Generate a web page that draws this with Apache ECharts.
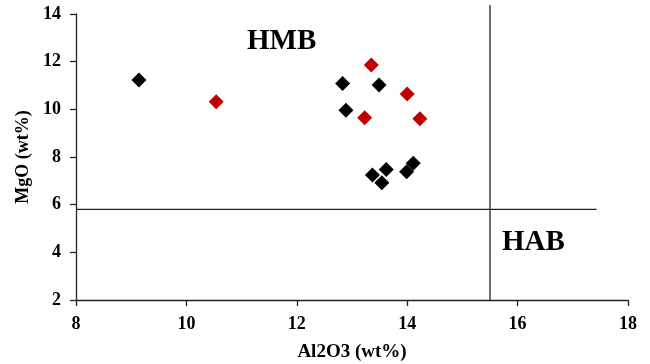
<!DOCTYPE html>
<html>
<head>
<meta charset="utf-8">
<script src="https://cdn.jsdelivr.net/npm/echarts@6/dist/echarts.min.js"></script>
<style>
  html, body { margin: 0; padding: 0; background: #fff; }
  #chart { width: 650px; height: 364px; }
</style>
</head>
<body>
<div id="chart"></div>
<script>
// Al2O3 (x) vs MgO (y), wt%
const blackPoints = [
  [9.14, 11.23],
  [12.83, 11.08],
  [13.49, 11.02],
  [12.89, 9.96],
  [13.37, 7.25],
  [13.62, 7.48],
  [13.54, 6.92],
  [13.99, 7.38],
  [14.11, 7.74],
]
const redPoints = [
  [10.54, 10.32],
  [13.35, 11.86],
  [14.0, 10.64],
  [13.23, 9.65],
  [14.23, 9.61],
]
// boundary lines HMB / HAB
const mgoLine = [[8, 5.8], [17.43, 5.8]]
const al2o3Line = [[15.5, 2], [15.5, 14.38]]

const serif = '"Liberation Serif", "Times New Roman", serif'
const ink = '#222'

const chart = echarts.init(document.getElementById('chart'))

const boundary = (data) => ({
  type: 'line',
  data,
  symbol: 'none',
  clip: false,
  silent: true,
  lineStyle: { color: ink, width: 1.3 },
  z: 1,
})

chart.setOption({
  animation: false,
  grid: { left: 76, right: 22, top: 14, bottom: 64, outerBoundsMode: 'none' },
  xAxis: {
    type: 'value',
    min: 8,
    max: 18,
    interval: 2,
    name: 'Al2O3 (wt%)',
    nameLocation: 'middle',
    nameGap: 43,
    nameTextStyle: { color: '#000', fontFamily: serif, fontWeight: 'bold', fontSize: 19 },
    splitLine: { show: false },
    axisLine: { lineStyle: { color: ink, width: 1.3 } },
    axisTick: { length: 6, lineStyle: { color: ink, width: 1.3 } },
    axisLabel: { color: '#000', fontFamily: serif, fontWeight: 'bold', fontSize: 18, margin: 15 },
  },
  yAxis: {
    type: 'value',
    min: 2,
    max: 14,
    interval: 2,
    name: 'MgO (wt%)',
    nameLocation: 'middle',
    nameGap: 40,
    nameTextStyle: { color: '#000', fontFamily: serif, fontWeight: 'bold', fontSize: 18 },
    splitLine: { show: false },
    axisLine: { show: true, lineStyle: { color: ink, width: 1.3 } },
    axisTick: { show: true, length: 6, lineStyle: { color: ink, width: 1.3 } },
    axisLabel: { color: '#000', fontFamily: serif, fontWeight: 'bold', fontSize: 18, margin: 15 },
  },
  graphic: [
    {
      type: 'text',
      left: 247,
      top: 27,
      style: { text: 'HMB', fill: '#000', font: 'bold 29px ' + serif },
    },
    {
      type: 'text',
      left: 502,
      top: 228,
      style: { text: 'HAB', fill: '#000', font: 'bold 29px ' + serif },
    },
  ],
  series: [
    boundary(mgoLine),
    boundary(al2o3Line),
    {
      type: 'scatter',
      symbol: 'diamond',
      symbolSize: 15,
      itemStyle: { color: '#000', opacity: 1 },
      data: blackPoints,
      z: 3,
    },
    {
      type: 'scatter',
      symbol: 'diamond',
      symbolSize: 15,
      itemStyle: { color: '#c00000', opacity: 1 },
      data: redPoints,
      z: 3,
    },
  ],
})
</script>
</body>
</html>
